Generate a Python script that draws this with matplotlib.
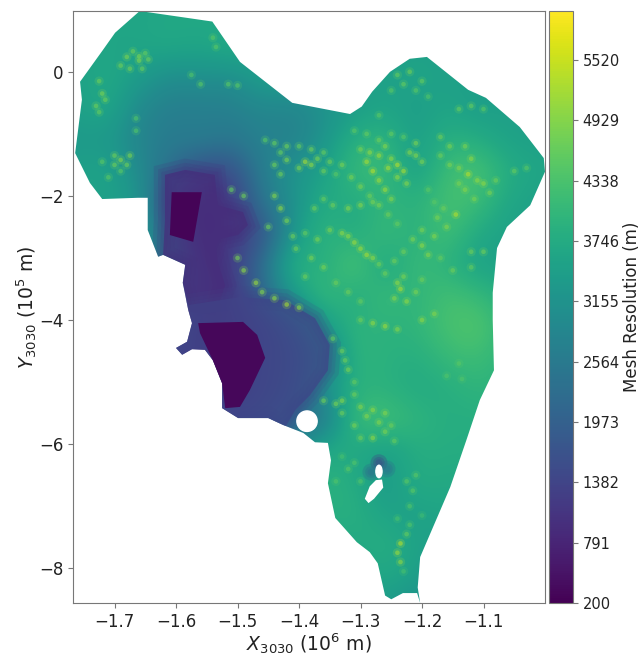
import numpy as np
import matplotlib
matplotlib.use('Agg')
import matplotlib.pyplot as plt
from matplotlib.patches import Polygon, Ellipse
from matplotlib.colors import Normalize
from matplotlib.cm import ScalarMappable

# outline of the model domain, x in 1e6 m, y in 1e5 m
outline_x = [-1.659, -1.541, -1.496, -1.411, -1.317, -1.298, -1.281, -1.252, -1.220, -1.192,
             -1.125, -1.096, -1.041, -1.002, -1.000, -1.024, -1.062, -1.078, -1.085, -1.085,
             -1.083, -1.106, -1.128, -1.154, -1.203, -1.207, -1.203, -1.208, -1.231, -1.250,
             -1.260, -1.272, -1.285, -1.306, -1.341, -1.353, -1.348, -1.353, -1.374, -1.393,
             -1.426, -1.450, -1.499, -1.525, -1.525, -1.540, -1.553, -1.574, -1.590, -1.600,
             -1.582, -1.574, -1.580, -1.589, -1.585, -1.621, -1.629, -1.646, -1.646, -1.662,
             -1.720, -1.740, -1.764, -1.753, -1.756, -1.719, -1.699]
outline_y = [0.98, 0.81, 0.16, -0.50, -0.68, -0.56, -0.32, 0.00, 0.21, 0.24,
             -0.29, -0.42, -0.89, -1.39, -1.61, -2.15, -2.50, -2.84, -3.56, -4.00,
             -4.81, -5.29, -5.94, -6.69, -7.82, -8.31, -8.56, -8.40, -8.40, -8.50,
             -8.44, -7.92, -7.74, -7.58, -7.19, -6.63, -6.26, -5.98, -5.97, -5.82,
             -5.69, -5.58, -5.58, -5.42, -5.02, -4.65, -4.48, -4.47, -4.56, -4.45,
             -4.35, -4.05, -3.84, -3.40, -3.11, -2.95, -2.98, -2.55, -2.03, -2.03,
             -2.05, -1.79, -1.31, -0.45, -0.16, 0.35, 0.63]

# nunatak shaped hole in the mesh
hole_x = [-1.265, -1.263, -1.278, -1.287, -1.293, -1.285, -1.275]
hole_y = [-6.57, -6.70, -6.88, -6.95, -6.88, -6.68, -6.58]

# finest parts of the mesh
core1_x = [-1.607, -1.558, -1.572, -1.610]
core1_y = [-1.94, -1.94, -2.74, -2.63]
core2_x = [-1.564, -1.491, -1.468, -1.455, -1.480, -1.496, -1.520, -1.525, -1.540, -1.561]
core2_y = [-4.05, -4.03, -4.24, -4.61, -5.13, -5.40, -5.42, -5.02, -4.65, -4.21]

# refined zones around them
zone1_x = [-1.618, -1.585, -1.537, -1.532, -1.491, -1.483, -1.499, -1.537, -1.532, -1.520,
           -1.537, -1.577, -1.589, -1.585, -1.621, -1.618, -1.618]
zone1_y = [-1.66, -1.58, -1.66, -2.15, -2.26, -2.47, -2.63, -2.71, -3.06, -3.44,
           -3.92, -3.87, -3.40, -3.11, -2.95, -2.40, -1.90]
zone2_x = [-1.580, -1.496, -1.423, -1.374, -1.350, -1.353, -1.382, -1.406, -1.423, -1.450,
           -1.499, -1.525, -1.525, -1.540, -1.553, -1.574, -1.590, -1.600, -1.582, -1.574]
zone2_y = [-3.76, -3.63, -3.68, -3.97, -4.40, -4.81, -5.21, -5.45, -5.74, -5.58,
           -5.58, -5.42, -5.02, -4.65, -4.48, -4.47, -4.56, -4.45, -4.35, -4.05]

# resolution (m) read on a coarse grid
grid_x = [-1.76, -1.71, -1.66, -1.61, -1.56, -1.51, -1.46, -1.41,
          -1.36, -1.31, -1.26, -1.21, -1.16, -1.11, -1.06, -1.01]
grid_y = [0.9, 0.4, -0.1, -0.6, -1.1, -1.6, -2.1, -2.6, -3.1, -3.6,
          -4.1, -4.6, -5.1, -5.6, -6.1, -6.6, -7.1, -7.6, -8.1, -8.6]
resolution = [
    [3600, 3600, 3600, 3650, 3650, 3650, 3600, 3600, 3500, 3500, 3500, 3500, 3500, 3500, 3500, 3500],
    [3600, 3600, 3600, 3700, 3600, 3800, 3500, 3400, 3400, 3500, 3500, 3500, 3500, 3500, 3500, 3500],
    [3500, 3700, 3400, 3000, 3100, 3000, 3500, 3500, 3400, 3500, 3500, 3600, 3500, 3500, 3500, 3500],
    [3500, 3700, 2900, 2650, 2650, 2700, 2850, 2800, 3100, 3400, 3600, 3400, 3600, 3400, 3500, 3500],
    [3300, 3300, 2800, 2600, 2700, 2500, 2800, 2700, 3200, 3900, 4000, 3400, 3900, 3800, 3500, 3500],
    [3500, 3600, 3000, 2300, 1500, 1500, 2700, 3200, 3500, 4100, 4200, 3400, 4200, 4400, 3800, 3600],
    [3500, 3500, 3300, 1500, 800, 1100, 2500, 3100, 3800, 3700, 4000, 3900, 4300, 4200, 3600, 3500],
    [3500, 3500, 3200, 2500, 600, 1200, 1500, 3300, 4000, 3700, 4200, 3800, 4300, 3700, 3500, 3500],
    [3300, 3300, 3200, 2700, 1000, 1200, 2300, 4000, 3700, 4500, 3500, 4200, 3900, 3500, 3500, 3500],
    [3000, 3000, 3000, 2000, 1200, 1000, 2100, 3400, 4200, 3700, 4200, 3900, 4300, 4100, 3800, 3700],
    [1800, 1800, 1800, 1800, 900, 1100, 1300, 2000, 3400, 4000, 3900, 4000, 4300, 4500, 3900, 3800],
    [1500, 1500, 1500, 1500, 1000, 1100, 1500, 1700, 2500, 4000, 3900, 3800, 4100, 4200, 3900, 3800],
    [1500, 1500, 1500, 1500, 800, 1000, 1500, 1800, 3200, 3900, 3900, 3700, 3800, 4000, 3900, 3800],
    [1500, 1500, 1500, 1500, 1500, 1500, 1700, 2200, 2400, 4200, 4300, 4000, 3800, 3800, 3800, 3700],
    [3000, 3000, 3000, 3000, 3000, 3000, 3000, 3000, 3800, 3700, 3400, 3800, 3800, 3800, 3800, 3800],
    [3800, 3800, 3800, 3800, 3800, 3800, 3800, 3800, 3900, 3800, 3300, 3800, 3700, 3700, 3700, 3700],
    [3700, 3700, 3700, 3700, 3700, 3700, 3700, 3700, 3800, 3900, 3500, 3500, 3600, 3600, 3600, 3600],
    [3700, 3700, 3700, 3700, 3700, 3700, 3700, 3700, 3700, 3700, 3900, 3500, 3500, 3500, 3500, 3500],
    [3500, 3500, 3500, 3500, 3500, 3500, 3500, 3500, 3500, 3500, 3700, 3500, 3300, 3300, 3300, 3300],
    [3400, 3400, 3400, 3400, 3400, 3400, 3400, 3400, 3400, 3400, 3400, 3100, 3100, 3100, 3100, 3100],
]

# clusters of coarse cells over the rough bedrock
hot_x = [-1.69, -1.68, -1.67, -1.66, -1.65, -1.725, -1.72, -1.73, -1.70, -1.69, -1.68, -1.72, -1.71,
         -1.665, -1.665, -1.515, -1.50, -1.575, -1.56, -1.54, -1.535,
         -1.39, -1.38, -1.37, -1.40, -1.42, -1.43, -1.44, -1.43, -1.44, -1.43, -1.42, -1.45, -1.41,
         -1.50, -1.49, -1.47, -1.46, -1.44, -1.42, -1.40, -1.33, -1.31, -1.29, -1.35,
         -1.38, -1.36, -1.39, -1.32, -1.30, -1.28, -1.51, -1.49,
         -1.29, -1.28, -1.27, -1.26, -1.25, -1.25, -1.24, -1.23, -1.22, -1.26, -1.21,
         -1.24, -1.22, -1.20, -1.14, -1.12, -1.10, -1.13, -1.12, -1.10, -1.14, -1.09,
         -1.145, -1.16, -1.18, -1.20, -1.19, -1.23, -1.235, -1.225, -1.21,
         -1.12, -1.10, -1.05, -1.03, -1.08, -1.28, -1.26, -1.24, -1.30, -1.20, -1.18,
         -1.33, -1.32, -1.31, -1.33, -1.36, -1.34, -1.30, -1.28, -1.26, -1.31, -1.28, -1.26,
         -1.32, -1.30, -1.21, -1.215, -1.22, -1.235, -1.24, -1.235, -1.225, -1.16,
         -1.455, -1.44, -1.42, -1.40, -1.38, -1.36, -1.35, -1.33, -1.36, -1.34,
         -1.31, -1.29, -1.27, -1.25, -1.23, -1.30, -1.285, -1.27, -1.255, -1.24, -1.225, -1.21, -1.20,
         -1.315, -1.30, -1.285, -1.27, -1.255, -1.24, -1.17, -1.155, -1.14, -1.125, -1.11, -1.13, -1.115,
         -1.17, -1.155, -1.19, -1.18, -1.165, -1.175, -1.20, -1.215, -1.23, -1.245,
         -1.375, -1.36, -1.345, -1.27, -1.26, -1.34, -1.32, -1.30, -1.405, -1.39, -1.37, -1.32, -1.30, -1.28,
         -1.17, -1.15, -1.12, -1.20, -1.245, -1.24, -1.25, -1.23, -1.21, -1.19, -1.27,
         -1.66, -1.645, -1.675, -1.655, -1.715, -1.725, -1.70, -1.69, -1.675,
         -1.31, -1.345, -1.325, -1.29, -1.27, -1.25, -1.245, -1.30, -1.33,
         -1.34, -1.33, -1.31, -1.20, -1.225, -1.24, -1.23, -1.22, -1.135, -1.14]
hot_y = [0.10, 0.24, 0.33, 0.18, 0.30, -0.15, -0.35, -0.55, -1.35, -1.42, -1.50, -1.45, -1.70,
         -0.75, -0.95, -0.20, -0.22, -0.05, -0.20, 0.55, 0.40,
         -1.45, -1.50, -1.40, -1.55, -1.42, -1.30, -1.50, -1.65, -2.00, -2.20, -2.40, -2.50, -2.65,
         -3.00, -3.20, -3.40, -3.55, -3.65, -3.75, -3.80, -2.60, -2.75, -2.95, -2.55,
         -3.00, -3.15, -3.30, -2.20, -2.15, -2.10, -1.90, -2.00,
         -1.45, -1.60, -1.75, -1.90, -2.05, -1.40, -1.50, -1.60, -1.30, -1.20, -1.15,
         -0.05, 0.00, -0.15, -0.60, -0.55, -0.60, -1.20, -1.40, -1.80, -1.80, -1.95,
         -2.30, -2.50, -2.65, -2.80, -2.95, -3.30, -3.50, -3.70, -3.55,
         -2.90, -2.90, -1.60, -1.55, -1.75, -4.05, -4.10, -4.15, -4.00, -4.00, -3.90,
         -4.50, -4.80, -5.00, -5.30, -5.30, -5.35, -5.40, -5.45, -5.50, -5.70, -5.90, -5.80,
         -6.40, -6.60, -6.50, -6.75, -7.00, -7.60, -7.75, -7.90, -7.45, -4.90,
         -1.10, -1.15, -1.20, -1.20, -1.25, -1.30, -1.45, -1.50, -1.60, -1.65,
         -0.95, -1.00, -1.10, -1.00, -1.05, -1.25, -1.30, -1.35, -1.55, -1.70, -1.80, -1.35, -1.45,
         -1.70, -1.85, -2.00, -2.15, -2.30, -2.45, -1.35, -1.50, -1.55, -1.65, -1.75, -1.90, -2.05,
         -1.05, -1.20, -1.90, -2.10, -2.20, -2.35, -2.55, -2.70, -2.90, -3.05,
         -2.20, -2.05, -2.15, -3.10, -3.25, -3.40, -3.55, -3.70, -2.85, -2.60, -2.70, -2.65, -2.85, -3.00,
         -3.00, -3.20, -3.15, -3.35, -3.65, -3.40, -0.30, -0.20, -0.30, -0.40, -0.70,
         0.25, 0.20, 0.05, 0.05, -0.45, -0.65, -1.50, -1.60, -1.35,
         -5.20, -4.30, -4.65, -5.55, -5.65, -5.70, -5.95, -5.90, -5.50,
         -6.60, -6.20, -6.30, -7.15, -6.60, -7.20, -8.05, -7.30, -4.95, -4.70]
hot_v = [4700, 4800, 4700, 4800, 4600, 4700, 4800, 4700, 4700, 4900, 4700, 4500, 4500,
         4400, 4400, 4500, 4500, 4400, 4500, 4500, 4500,
         5200, 5000, 4800, 4800, 4800, 4600, 4700, 4700, 4900, 5000, 4800, 4700, 4700,
         4800, 5000, 5100, 4900, 5000, 5200, 5000, 5000, 5100, 5200, 4800,
         4800, 4800, 4700, 4900, 4900, 4800, 4600, 4700,
         5200, 5300, 5100, 5100, 4900, 5000, 5300, 5200, 4900, 4900, 4800,
         4600, 4700, 4600, 4600, 4600, 4500, 4800, 5000, 5000, 4800, 4800,
         5300, 4900, 4900, 5000, 4900, 4800, 5200, 5000, 4800,
         4700, 4700, 4600, 4500, 4700, 5000, 5100, 4900, 4700, 5000, 4900,
         4700, 4800, 4600, 4900, 4700, 4800, 4900, 5000, 4900, 4800, 5000, 4800,
         4500, 4400, 4500, 4500, 4400, 5300, 5100, 5000, 4600, 4400,
         4500, 4600, 4700, 4600, 4700, 4600, 4700, 4800, 4700, 4500,
         4500, 4600, 4700, 4600, 4500, 4800, 5000, 5100, 5200, 5000, 4900, 4900, 4800,
         4800, 4800, 4700, 4800, 4700, 4600, 4700, 4800, 4900, 5300, 5000, 4900, 4800,
         4700, 4800, 4500, 4500, 4700, 4800, 4800, 4800, 4700, 4700,
         4700, 4600, 4700, 4700, 4700, 4700, 4700, 4600, 4700, 4600, 4800, 5000, 5100, 5000,
         4600, 4700, 4600, 4700, 4900, 5000, 4500, 4600, 4500, 4400, 4500,
         4800, 4700, 4700, 4600, 4700, 4600, 4700, 4500, 4800,
         4700, 4600, 4700, 4900, 4900, 4700, 4600, 4700, 4700,
         4400, 4300, 4400, 4200, 4500, 4300, 4300, 4400, 4400, 4500]

# small cells around the nunataks
low_x = [-1.27, -1.283, -1.257]
low_y = [-6.30, -6.45, -6.40]
low_v = [1300, 2200, 2300]

cbar_ticks = [200, 791, 1382, 1973, 2564, 3155, 3746, 4338, 4929, 5520]
VMIN = 200
VMAX = 6000
TEXT = '#222222'
FRAME = '#777777'


def main():
    plt.rcParams['text.color'] = TEXT
    plt.rcParams['axes.labelcolor'] = TEXT
    plt.rcParams['xtick.labelcolor'] = TEXT
    plt.rcParams['ytick.labelcolor'] = TEXT

    fig = plt.figure(figsize=(6.42, 6.58), dpi=100)
    ax = fig.add_axes([73 / 642, 1 - 603 / 658, 472 / 642, 592 / 658])
    cax = fig.add_axes([549 / 642, 1 - 603 / 658, 24 / 642, 592 / 658])

    norm = Normalize(VMIN, VMAX)
    cmap = plt.get_cmap('viridis')

    # Field, everything clipped to the domain outline
    dx = (grid_x[1] - grid_x[0]) / 2
    dy = (grid_y[0] - grid_y[1]) / 2
    im = ax.imshow(
        np.array(resolution, dtype=float),
        extent=(grid_x[0] - dx, grid_x[-1] + dx, grid_y[-1] - dy, grid_y[0] + dy),
        cmap=cmap,
        norm=norm,
        interpolation='bicubic',
        aspect='auto',
    )
    domain = Polygon(np.column_stack([outline_x, outline_y]), closed=True, transform=ax.transData)
    im.set_clip_path(domain)

    # Zones with soft edges, wide translucent strokes first
    for zx, zy, v in ((zone1_x, zone1_y, 950), (zone2_x, zone2_y, 1400)):
        zone = ax.fill(zx, zy, color=cmap(norm(v)), alpha=0.7, linewidth=0)[0]
        zone.set_clip_path(domain)
        for lw in (16, 10, 5):
            edge = ax.fill(zx, zy, facecolor='none', edgecolor=cmap(norm(v)), alpha=0.16, linewidth=lw)[0]
            edge.set_clip_path(domain)

    # Hot cells, a soft halo under a small dot
    halo = ax.scatter(hot_x, hot_y, c=hot_v, s=45, cmap=cmap, norm=norm, alpha=0.22, linewidths=0)
    halo.set_clip_path(domain)
    hot = ax.scatter(hot_x, hot_y, c=hot_v, s=11, cmap=cmap, norm=norm, alpha=0.6, linewidths=0)
    hot.set_clip_path(domain)
    for s in (150, 70, 25):
        low = ax.scatter(low_x, low_y, c=low_v, s=s, cmap=cmap, norm=norm, alpha=0.3, linewidths=0)
        low.set_clip_path(domain)

    for cx, cy, v in ((core1_x, core1_y, 250), (core2_x, core2_y, 300)):
        ax.fill(cx, cy, color=cmap(norm(v)), linewidth=0)

    # Holes in the mesh
    ax.add_patch(Ellipse((-1.387, -5.63), 0.033, 0.33, color='white', zorder=5))
    ax.add_patch(Ellipse((-1.270, -6.44), 0.010, 0.20, color='white', zorder=5))
    ax.fill(hole_x, hole_y, color='white', linewidth=0, zorder=5)

    # X axis
    ax.set_xlim(-1.7675, -1.0)
    ax.set_xticks([-1.7, -1.6, -1.5, -1.4, -1.3, -1.2, -1.1])
    ax.set_xlabel(r'$X_{3030}$ ($10^6$ m)', fontsize=13.5, labelpad=0)

    # Y axis
    ax.set_ylim(-8.56, 0.98)
    ax.set_yticks([0, -2, -4, -6, -8])
    ax.set_ylabel(r'$Y_{3030}$ ($10^5$ m)', fontsize=13.5, labelpad=0)
    ax.tick_params(labelsize=12, color=FRAME, length=3.5)
    for spine in ax.spines.values():
        spine.set_color(FRAME)

    # Colorbar
    cb = fig.colorbar(ScalarMappable(norm=norm, cmap=cmap), cax=cax, ticks=cbar_ticks)
    cb.set_label('Mesh Resolution (m)', fontsize=12, labelpad=2)
    cb.ax.tick_params(labelsize=10.5, color=FRAME, length=3.5)
    cb.outline.set_edgecolor(FRAME)

    fig.savefig('out.png', dpi=100)


if __name__ == '__main__':
    main()
